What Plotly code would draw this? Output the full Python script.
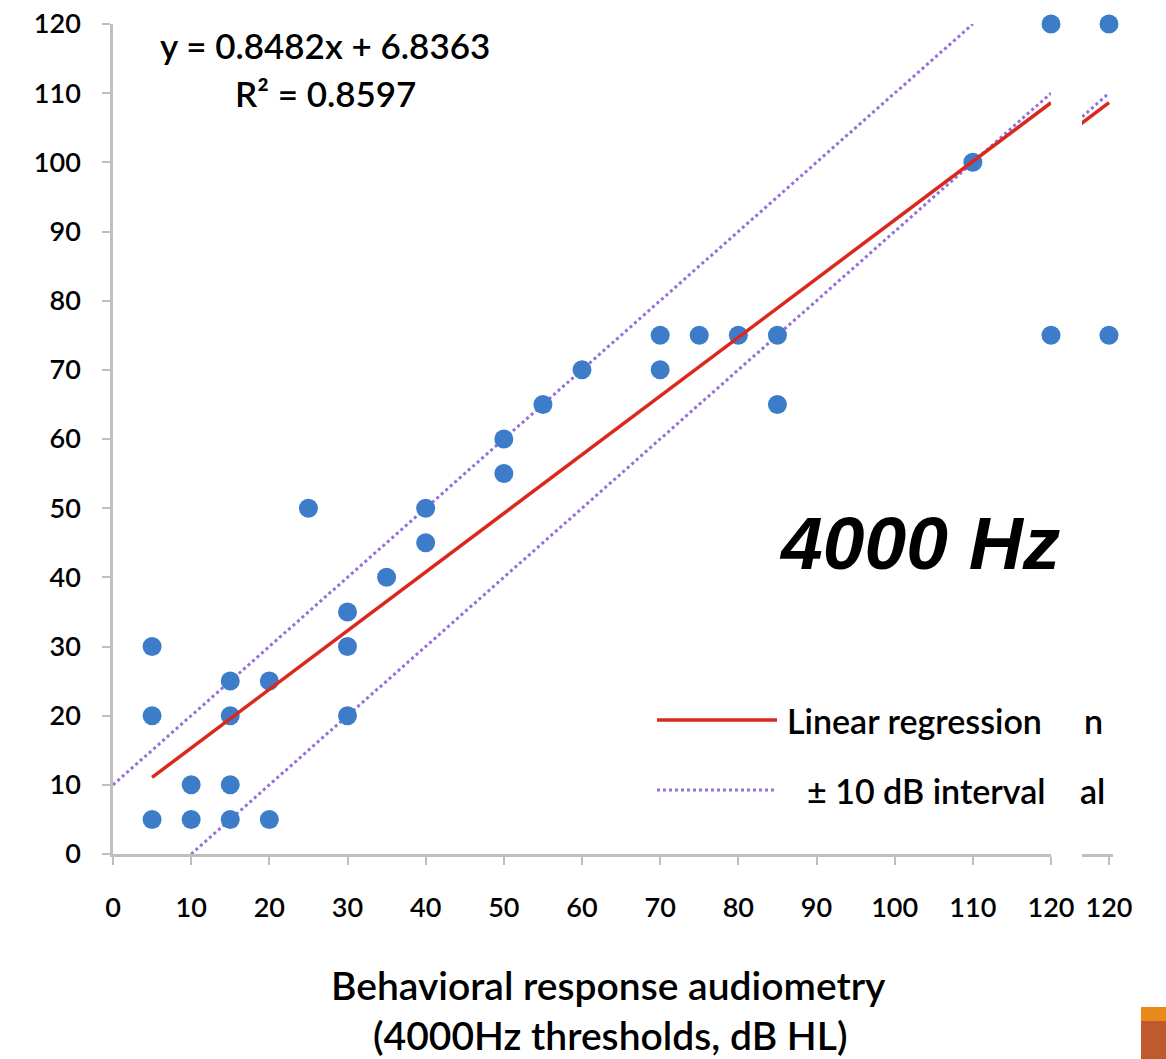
import plotly.graph_objects as go

# ---------------- data ----------------
x_vals = [5, 5, 5, 10, 10, 15, 15, 15, 15, 20, 20, 25, 30, 30, 30, 35, 40, 40,
          50, 50, 55, 60, 70, 70, 75, 80, 85, 85, 110, 120, 120]
y_vals = [30, 20, 5, 10, 5, 25, 20, 10, 5, 25, 5, 50, 35, 30, 20, 40, 50, 45,
          60, 55, 65, 70, 75, 70, 75, 75, 75, 65, 100, 120, 75]
slope = 0.8482
intercept = 6.8363
reg_x = [5, 120]
upper_x = [0, 110]
lower_x = [10, 120]
interval = 10
x_ticks = [0, 10, 20, 30, 40, 50, 60, 70, 80, 90, 100, 110, 120]
y_ticks = [0, 10, 20, 30, 40, 50, 60, 70, 80, 90, 100, 110, 120]
strip_x = [120, 120]
strip_y = [120, 75]
strip_line_x = [116.0, 120]

reg_y = [slope * v + intercept for v in reg_x]
upper_y = [v + interval for v in upper_x]
lower_y = [v - interval for v in lower_x]
strip_reg_y = [slope * v + intercept for v in strip_line_x]
strip_low_y = [v - interval for v in strip_line_x]

# ---------------- geometry helpers (pixels -> paper) ----------------
W, H = 1166, 1059
L, R, T, B = 113, 0, 24, 205
PW, PH = W - L - R, H - T - B


def px(xp):
    return (xp - L) / PW


def py(yp):
    return (H - B - yp) / PH


BLUE = "#3D7CC9"
RED = "#DA281E"
PURPLE = "#9370DB"
AXIS = "#BFBFBF"
FONT = "Lato"
WEIGHT = 600

fig = go.Figure()

# main panel
fig.add_trace(go.Scatter(x=upper_x, y=upper_y, mode="lines",
                         line=dict(color=PURPLE, width=3, dash="dot"),
                         showlegend=False, hoverinfo="skip"))
fig.add_trace(go.Scatter(x=lower_x, y=lower_y, mode="lines",
                         line=dict(color=PURPLE, width=3, dash="dot"),
                         showlegend=False, hoverinfo="skip"))
fig.add_trace(go.Scatter(x=x_vals, y=y_vals, mode="markers",
                         marker=dict(color=BLUE, size=19),
                         cliponaxis=False, showlegend=False))
fig.add_trace(go.Scatter(x=reg_x, y=reg_y, mode="lines",
                         line=dict(color=RED, width=3.5),
                         showlegend=False, hoverinfo="skip"))

# narrow duplicated strip at the right
fig.add_trace(go.Scatter(x=strip_line_x, y=strip_low_y, mode="lines",
                         line=dict(color=PURPLE, width=3, dash="dot"),
                         xaxis="x2", yaxis="y", showlegend=False, hoverinfo="skip"))
fig.add_trace(go.Scatter(x=strip_x, y=strip_y, mode="markers",
                         marker=dict(color=BLUE, size=19), cliponaxis=False,
                         xaxis="x2", yaxis="y", showlegend=False))
fig.add_trace(go.Scatter(x=strip_line_x, y=strip_reg_y, mode="lines",
                         line=dict(color=RED, width=3.5),
                         xaxis="x2", yaxis="y", showlegend=False, hoverinfo="skip"))

tickfont = dict(family=FONT, size=27, color="black", weight=WEIGHT)

fig.update_layout(
    width=W, height=H, autosize=False,
    margin=dict(l=L, r=R, t=T, b=B, autoexpand=False),
    paper_bgcolor="white", plot_bgcolor="white",
    xaxis=dict(domain=[0, px(1051)], range=[0, 120], tickvals=x_ticks,
               ticktext=[str(v) for v in x_ticks], showgrid=False, zeroline=False,
               showline=True, linecolor=AXIS, linewidth=2.5,
               ticks="outside", ticklen=8, tickwidth=2, tickcolor=AXIS,
               tickfont=tickfont, ticklabelstandoff=20, anchor="y"),
    xaxis2=dict(domain=[px(1082), px(1113)], range=[120 - 27 / 7.817, 120 + 4 / 7.817],
                tickvals=[120], ticktext=["120"], showgrid=False, zeroline=False,
                showline=True, linecolor=AXIS, linewidth=2.5,
                ticks="outside", ticklen=8, tickwidth=2, tickcolor=AXIS,
                tickfont=tickfont, ticklabelstandoff=20, anchor="y"),
    yaxis=dict(domain=[0, 1], range=[0, 120], tickvals=y_ticks,
               ticktext=[str(v) for v in y_ticks], showgrid=False, zeroline=False,
               showline=True, linecolor=AXIS, linewidth=2.5,
               ticks="outside", ticklen=8, tickwidth=2, tickcolor=AXIS,
               tickfont=tickfont, ticklabelstandoff=16),
)

annotations = [
    dict(text="y = 0.8482x + 6.8363", x=px(325), y=py(45), size=35),
    dict(text="R² = 0.8597", x=px(325), y=py(93), size=35),
    dict(text="Behavioral response audiometry", x=px(608), y=py(985), size=39),
    dict(text="(4000Hz thresholds, dB HL)", x=px(610), y=py(1035), size=39),
    dict(text="Linear regression", x=px(785), y=py(720), xanchor="left", size=34),
    dict(text="± 10 dB interval", x=px(805), y=py(790), xanchor="left", size=34),
    dict(text="n", x=px(1093), y=py(720), size=34),
    dict(text="al", x=px(1092), y=py(790), size=34),
]
for a in annotations:
    fig.add_annotation(text=a["text"], x=a["x"], y=a["y"], xref="paper", yref="paper",
                       xanchor=a.get("xanchor", "center"), yanchor="middle",
                       showarrow=False,
                       font=dict(family=FONT, size=a.get("size", 28), color="black",
                                 weight=WEIGHT))

fig.add_annotation(text="<b><i>4000 Hz</i></b>", x=px(919), y=py(543), xref="paper",
                   yref="paper", showarrow=False, xanchor="center", yanchor="middle",
                   font=dict(family="Liberation Sans", size=75, color="black"))

# legend samples
fig.add_shape(type="line", xref="paper", yref="paper", x0=px(657), x1=px(777),
              y0=py(720), y1=py(720), line=dict(color=RED, width=3.5))
fig.add_shape(type="line", xref="paper", yref="paper", x0=px(657), x1=px(775),
              y0=py(790), y1=py(790), line=dict(color=PURPLE, width=3, dash="dot"))

# corner decoration blocks
fig.add_shape(type="rect", xref="paper", yref="paper", x0=px(1141), x1=px(1166),
              y0=py(1021), y1=py(1007), fillcolor="#E8891A", line=dict(width=0))
fig.add_shape(type="rect", xref="paper", yref="paper", x0=px(1141), x1=px(1166),
              y0=py(1059), y1=py(1021), fillcolor="#BF5A2E", line=dict(width=0))

fig.write_html(
    "out.html",
    config={"responsive": False},
    post_script="document.body.style.margin='0';"
                "document.documentElement.style.overflow='hidden';"
                "document.body.style.overflow='hidden';",
)
